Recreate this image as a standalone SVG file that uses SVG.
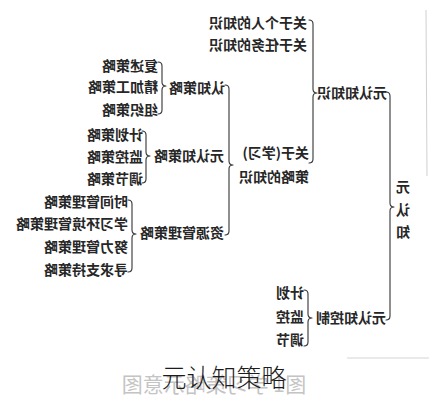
<svg xmlns="http://www.w3.org/2000/svg" width="448" height="400" viewBox="0 0 448 400">
<style>
.t{font-family:"Noto Sans CJK SC","Noto Sans CJK JP",sans-serif;font-size:14px;font-weight:700;fill:#262626}
.b{fill:none;stroke:#333;stroke-width:1.1;stroke-linecap:round;stroke-linejoin:round}
.wm{font-family:"Noto Sans CJK SC",sans-serif;font-size:21px;fill:#c4c4c4}
.cap{font-family:"Noto Sans CJK SC",sans-serif;font-size:25px;font-weight:300;fill:#1c1c1c}
</style>
<rect width="448" height="400" fill="#fff"/>
<!-- faint scan artifacts -->
<line x1="426" y1="10" x2="427" y2="176" stroke="#d0d0d0" stroke-width="1"/>
<line x1="347" y1="358" x2="429" y2="358" stroke="#d4d4d4" stroke-width="1"/>
<g transform="matrix(-1 0 0 1 448 0)">
  <text class="wm" x="234" y="392" text-anchor="middle">图1 学习策略示意图</text>
  <g id="connectors">
    <path class="b" d="M139 20 Q135 20 135 24 L135 89 Q135 93 131 93 Q135 93 135 97 L135 159 Q135 163 139 163"/>
    <path class="b" d="M62 92 Q58 92 58 96 L58 203 Q58 207 54 207 Q58 207 58 211 L58 316 Q58 320 62 320"/>
    <path class="b" d="M144 290 Q140 290 140 294 L140 314 Q140 318 136 318 Q140 318 140 322 L140 342 Q140 346 144 346"/>
    <path class="b" d="M223 85 Q219 85 219 89 L219 161 Q219 165 215 165 Q219 165 219 169 L219 231 Q219 235 223 235"/>
    <path class="b" d="M290 62 Q286 62 286 66 L286 82 Q286 86 282 86 Q286 86 286 90 L286 110 Q286 114 290 114"/>
    <path class="b" d="M306 131 Q302 131 302 135 L302 152 Q302 156 298 156 Q302 156 302 160 L302 179 Q302 183 306 183"/>
    <path class="b" d="M320 200 Q316 200 316 204 L316 230 Q316 234 312 234 Q316 234 316 238 L316 268 Q316 272 320 272"/>
  </g>
  <g id="n-metacognition">
    <text class="t" x="45" y="192" text-anchor="middle">元</text>
    <text class="t" x="45" y="215" text-anchor="middle">认</text>
    <text class="t" x="45" y="237" text-anchor="middle">知</text>
  </g>
  <g id="n-knowledge"><text class="t" x="61" y="98">元认知知识</text></g>
  <g id="n-control"><text class="t" x="62" y="323">元认知控制</text></g>
  <g id="n-person"><text class="t" x="141" y="28">关于个人的知识</text></g>
  <g id="n-task"><text class="t" x="141" y="50">关于任务的知识</text></g>
  <g id="n-strategy-knowledge">
    <text class="t" x="139" y="158">关于(学习)</text>
    <text class="t" x="139" y="182">策略的知识</text>
  </g>
  <g id="n-plan"><text class="t" x="144" y="298">计划</text></g>
  <g id="n-monitor"><text class="t" x="144" y="322">监控</text></g>
  <g id="n-regulate"><text class="t" x="144" y="345">调节</text></g>
  <g id="n-cognitive"><text class="t" x="223" y="93">认知策略</text></g>
  <g id="n-metacog-strategy"><text class="t" x="224" y="161">元认知策略</text></g>
  <g id="n-resource"><text class="t" x="224" y="238">资源管理策略</text></g>
  <g id="n-rehearsal"><text class="t" x="290" y="71">复述策略</text></g>
  <g id="n-elaboration"><text class="t" x="290" y="92">精加工策略</text></g>
  <g id="n-organization"><text class="t" x="290" y="115">组织策略</text></g>
  <g id="n-plan-s"><text class="t" x="305" y="140">计划策略</text></g>
  <g id="n-monitor-s"><text class="t" x="305" y="162">监控策略</text></g>
  <g id="n-regulate-s"><text class="t" x="305" y="184">调节策略</text></g>
  <g id="n-time"><text class="t" x="320" y="207">时间管理策略</text></g>
  <g id="n-environment"><text class="t" x="320" y="229">学习环境管理策略</text></g>
  <g id="n-effort"><text class="t" x="320" y="252">努力管理策略</text></g>
  <g id="n-support"><text class="t" x="320" y="275">寻求支持策略</text></g>
</g>
<text class="cap" x="224" y="387" text-anchor="middle">元认知策略</text>
</svg>
